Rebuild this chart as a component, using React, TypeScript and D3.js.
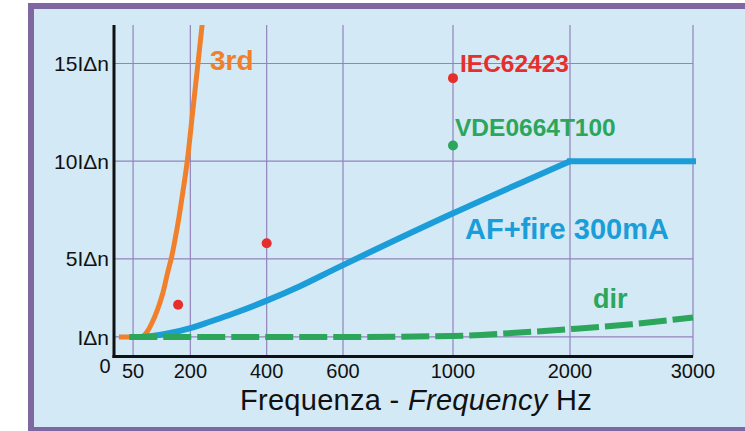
import React from "react";
import * as d3 from "d3";

// ---- data ----
const xTickValues = [50, 200, 400, 600, 1000, 2000, 3000];
const yTickValues = [1, 5, 10, 15];
const yTickLabels = ["IΔn", "5IΔn", "10IΔn", "15IΔn"];

// 3rd harmonic curve (Hz, multiples of IΔn)
const thirdFreq = [13, 76, 88, 99, 114, 128, 140, 151, 160, 170, 181, 192, 206, 220, 231];
const thirdVal = [1, 1, 1.3, 1.7, 2.4, 3.25, 4.25, 5.1, 6.0, 7.1, 8.5, 10, 12.5, 15, 17];

// AF+fire 300mA curve
const afFreq = [68, 100, 147, 200, 251, 313, 400, 487, 600, 1000, 2000, 3000];
const afVal = [1, 1.05, 1.2, 1.45, 1.78, 2.2, 2.86, 3.6, 4.68, 7.33, 10, 10];

// dir curve (dashed)
const dirFreq = [40, 600, 1000, 1500, 2000, 2500, 3000];
const dirVal = [1, 1, 1.05, 1.2, 1.4, 1.65, 2.0];

// IEC62423 points
const iecFreq = [168, 400, 1000];
const iecVal = [2.65, 5.8, 14.25];

// VDE0664T100 point
const vdeFreq = [1000];
const vdeVal = [10.8];

const FONT = "'Liberation Sans', Arial, Helvetica, sans-serif";
const C_BG = "#d3e9f5";
const C_BORDER = "#7f68a0";
const C_GRID = "#9283bd";
const C_ORANGE = "#f0802b";
const C_BLUE = "#1a9dd8";
const C_GREEN = "#2ba65b";
const C_RED = "#e62f2d";

export default function App() {
  const W = 745;
  const H = 431;

  const x = d3
    .scaleLinear()
    .domain([0, 600, 1000, 2000, 3000])
    .range([114, 343, 453, 570, 693]);
  const y = d3.scaleLinear().domain([0, 15]).range([356.5, 63.5]);
  const yTop = 25;

  const mk = (fs: number[], vs: number[]) => fs.map((f, i) => [f, vs[i]] as [number, number]);

  const lineWith = (curve: d3.CurveFactory) =>
    d3
      .line<[number, number]>()
      .x((d) => x(d[0]))
      .y((d) => y(d[1]))
      .curve(curve);

  const third = mk(thirdFreq, thirdVal);
  const thirdFlat = lineWith(d3.curveLinear)(third.slice(0, 2)) || "";
  const thirdRise = lineWith(d3.curveCatmullRom.alpha(0.5))(third.slice(1)) || "";

  const af = mk(afFreq, afVal);
  const kink = afFreq.indexOf(2000);
  const afCurve = lineWith(d3.curveCatmullRom.alpha(0.5))(af.slice(0, kink + 1)) || "";
  const afFlat = lineWith(d3.curveLinear)(af.slice(kink)) || "";

  const dirPath = lineWith(d3.curveMonotoneX)(mk(dirFreq, dirVal)) || "";

  const x0 = x(0);
  const x1 = x(3000);
  const y0 = y(0);

  return (
    <svg
      width={W}
      height={H}
      style={{ position: "absolute", left: 0, top: 0, display: "block" }}
    >
      <defs>
        <clipPath id="plotclip">
          <rect x={x0} y={yTop} width={x1 - x0 + 5} height={y0 - yTop} />
        </clipPath>
      </defs>
      <rect x={0} y={0} width={W} height={H} fill="#ffffff" />
      <rect
        x={31}
        y={6}
        width={730}
        height={424}
        fill={C_BG}
        stroke={C_BORDER}
        strokeWidth={6}
      />

      {/* grid */}
      {xTickValues.map((v) => (
        <line
          key={"gx" + v}
          x1={x(v)}
          x2={x(v)}
          y1={yTop}
          y2={y0}
          stroke={C_GRID}
          strokeWidth={1.2}
        />
      ))}
      {yTickValues.map((v) => (
        <line
          key={"gy" + v}
          x1={x0}
          x2={x1}
          y1={y(v)}
          y2={y(v)}
          stroke={C_GRID}
          strokeWidth={1.2}
        />
      ))}

      {/* curves */}
      <g clipPath="url(#plotclip)">
        <path d={thirdFlat} fill="none" stroke={C_ORANGE} strokeWidth={5} />
        <path d={thirdRise} fill="none" stroke={C_ORANGE} strokeWidth={5} />
        <path d={afCurve} fill="none" stroke={C_BLUE} strokeWidth={6} />
        <path d={afFlat} fill="none" stroke={C_BLUE} strokeWidth={6} strokeLinecap="square" />
        <path
          d={dirPath}
          fill="none"
          stroke={C_GREEN}
          strokeWidth={6}
          strokeDasharray="28 6"
        />
      </g>

      {/* points */}
      {iecFreq.map((f, i) => (
        <circle key={"iec" + i} cx={x(f)} cy={y(iecVal[i])} r={5} fill={C_RED} />
      ))}
      {vdeFreq.map((f, i) => (
        <circle key={"vde" + i} cx={x(f)} cy={y(vdeVal[i])} r={5} fill={C_GREEN} />
      ))}

      {/* axes */}
      <line x1={x0} x2={x0} y1={yTop} y2={y0 + 1.5} stroke="#111" strokeWidth={3} />
      <line x1={x0 - 1.5} x2={x1} y1={y0} y2={y0} stroke="#111" strokeWidth={3} />

      {/* y tick labels */}
      {yTickValues.map((v, i) => (
        <text
          key={"yl" + v}
          x={109}
          y={y(v)}
          dy="0.36em"
          textAnchor="end"
          fontFamily={FONT}
          fontSize={21}
          fill="#111"
        >
          {yTickLabels[i]}
        </text>
      ))}
      <text x={105} y={373} textAnchor="middle" fontFamily={FONT} fontSize={20} fill="#111">
        0
      </text>

      {/* x tick labels */}
      {xTickValues.map((v) => (
        <text
          key={"xl" + v}
          x={x(v)}
          y={378}
          textAnchor="middle"
          fontFamily={FONT}
          fontSize={20}
          fill="#111"
        >
          {v}
        </text>
      ))}

      {/* axis title */}
      <text
        x={416}
        y={410}
        textAnchor="middle"
        fontFamily={FONT}
        fontSize={29}
        letterSpacing={0.3}
        fill="#111"
      >
        <tspan>Frequenza - </tspan>
        <tspan fontStyle="italic">Frequency</tspan>
        <tspan> Hz</tspan>
      </text>

      {/* series labels */}
      <text x={210} y={70} fontFamily={FONT} fontSize={28} fontWeight="bold" fill={C_ORANGE}>
        3rd
      </text>
      <text x={460} y={72} fontFamily={FONT} fontSize={24.5} fontWeight="bold" fill={C_RED}>
        IEC62423
      </text>
      <text x={455} y={136} fontFamily={FONT} fontSize={24.5} fontWeight="bold" fill={C_GREEN}>
        VDE0664T100
      </text>
      <text x={465} y={239} fontFamily={FONT} fontSize={29} fontWeight="bold" fill={C_BLUE}>
        AF+fire 300mA
      </text>
      <text x={593} y={308} fontFamily={FONT} fontSize={27} fontWeight="bold" fill={C_GREEN}>
        dir
      </text>
    </svg>
  );
}
